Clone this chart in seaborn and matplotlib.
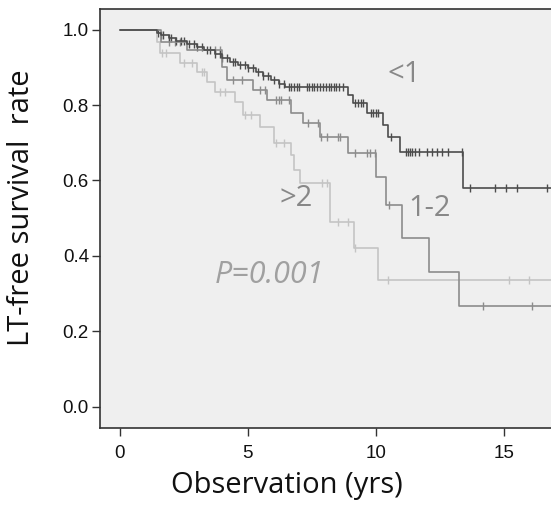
import numpy as np
import pandas as pd
import seaborn as sns
import matplotlib
matplotlib.use("Agg")
import matplotlib.pyplot as plt

# Kaplan-Meier style step data
groups = ["<1", "1-2", ">2"]

lt1_times = [0, 1.45, 1.6, 1.9, 2.2, 2.6, 3.0, 3.3, 3.7, 4.0, 4.3, 4.6, 5.0, 5.3, 5.6,
             5.9, 6.2, 6.45, 8.9, 9.1, 9.65, 10.27, 10.47, 10.94, 13.4]
lt1_surv = [1.0, 0.99, 0.985, 0.978, 0.97, 0.962, 0.955, 0.945, 0.935, 0.925, 0.915,
            0.905, 0.897, 0.888, 0.877, 0.866, 0.857, 0.848, 0.826, 0.805, 0.778,
            0.747, 0.716, 0.676, 0.58]
lt1_cens = [1.5, 1.6, 1.7, 1.9, 2.0, 2.2, 2.4, 2.5, 2.7, 2.9, 3.0, 3.2, 3.4, 3.5, 3.7,
            3.9, 4.0, 4.2, 4.4, 4.5, 4.7, 4.9, 5.0, 5.2, 5.4, 5.6, 5.8, 6.0, 6.2, 6.4,
            6.6, 6.7, 6.8, 6.9, 7.0, 7.3, 7.4, 7.5, 7.6, 7.7, 7.8, 7.95, 8.05, 8.15,
            8.25, 8.35, 8.45, 8.55, 8.7, 9.2, 9.3, 9.4, 9.5, 9.8, 9.9, 10.0, 10.1,
            10.6, 11.17, 11.25, 11.33, 11.4, 11.52, 11.7, 12.0, 12.2, 12.4, 12.6,
            12.8, 13.36, 13.67, 14.65, 15.08, 15.5, 16.68]

mid_times = [0, 1.6, 2.6, 4.0, 4.2, 5.2, 5.74, 6.7, 7.15, 7.8, 8.9, 10.0, 10.4, 11.0,
             12.07, 13.24]
mid_surv = [1.0, 0.968, 0.946, 0.90, 0.866, 0.84, 0.813, 0.78, 0.752, 0.716, 0.672,
            0.61, 0.535, 0.447, 0.357, 0.268]
mid_cens = [1.9, 2.15, 2.35, 3.7, 3.9, 4.4, 4.77, 5.47, 5.66, 6.1, 6.2, 6.3, 6.6, 7.35,
            7.75, 7.85, 8.1, 8.5, 8.6, 9.2, 9.65, 9.77, 9.95, 10.5, 14.2, 16.1]

gt2_times = [0, 1.45, 1.55, 2.35, 3.0, 3.4, 3.7, 4.5, 4.8, 5.47, 6.0, 6.7, 6.8, 7.03,
             8.2, 9.15, 10.08]
gt2_surv = [1.0, 0.968, 0.937, 0.911, 0.887, 0.861, 0.835, 0.808, 0.773, 0.742, 0.70,
            0.667, 0.628, 0.593, 0.491, 0.421, 0.336]
gt2_cens = [1.65, 1.78, 2.5, 2.8, 3.2, 3.3, 3.9, 4.1, 4.9, 5.1, 6.1, 6.4, 7.88, 8.1,
            8.5, 8.9, 9.2, 10.47, 15.2, 16.0]

end_time = 17.0
colors = {"<1": "#4c4c4c", "1-2": "#8c8c8c", ">2": "#c4c4c4"}

series = {"<1": (lt1_times, lt1_surv, lt1_cens),
          "1-2": (mid_times, mid_surv, mid_cens),
          ">2": (gt2_times, gt2_surv, gt2_cens)}

sns.set_style("ticks")
fig = plt.figure(figsize=(5.51, 5.11), dpi=100)
ax = fig.add_axes([0.1815, 0.1624, 0.8185, 0.8196])
ax.set_facecolor("#efefef")

# draw lighter curves first so the dark one sits on top
for g in [">2", "1-2", "<1"]:
    t, s, c = series[g]
    steps = pd.DataFrame({"time": list(t) + [end_time], "surv": list(s) + [s[-1]]})
    sns.lineplot(data=steps, x="time", y="surv", ax=ax, drawstyle="steps-post",
                 estimator=None, sort=False, color=colors[g], linewidth=1.2)
    idx = np.searchsorted(t, c, side="right") - 1
    cens = pd.DataFrame({"time": c, "surv": np.asarray(s)[idx]})
    sns.scatterplot(data=cens, x="time", y="surv", ax=ax, marker="|", s=40,
                    color=colors[g], linewidth=1.0)

ax.set_xlim(-0.78, 16.84)
ax.set_ylim(-0.056, 1.054)
ax.set_xticks([0, 5, 10, 15])
ax.set_yticks([0.0, 0.2, 0.4, 0.6, 0.8, 1.0])
ax.set_yticklabels(["0.0", "0.2", "0.4", "0.6", "0.8", "1.0"])
ax.tick_params(axis="both", direction="out", length=6, width=1, color="#333333",
               labelsize=13.5, labelcolor="#111111")
ax.tick_params(axis="x", pad=6)
ax.tick_params(axis="y", pad=2)
for lab in ax.get_xticklabels() + ax.get_yticklabels():
    lab.set_family(["Liberation Sans", "DejaVu Sans"])
for side in ["left", "bottom", "top"]:
    ax.spines[side].set_color("#333333")
    ax.spines[side].set_linewidth(1.2)
    ax.spines[side].set_visible(True)
ax.spines["right"].set_visible(False)

txt_font = ["Open Sans", "DejaVu Sans"]
ax.set_xlabel("Observation (yrs)", fontsize=21, family=txt_font, color="#111111")
ax.set_ylabel("LT-free survival  rate", fontsize=21, family=txt_font, color="#111111")
ax.xaxis.set_label_coords(0.415, -0.103)
ax.yaxis.set_label_coords(-0.142, 0.527)

ax.text(11.1, 0.88, "<1", fontsize=21, color="#888888", ha="center", va="center", family=txt_font)
ax.text(12.1, 0.527, "1-2", fontsize=21, color="#888888", ha="center", va="center", family=txt_font)
ax.text(6.9, 0.553, ">2", fontsize=21, color="#888888", ha="center", va="center", family=txt_font)
ax.text(5.85, 0.35, "P=0.001", fontsize=22, color="#a0a0a0", ha="center", va="center",
        style="italic", family=txt_font)

if ax.get_legend() is not None:
    ax.get_legend().remove()

fig.savefig("out.png", dpi=100)
